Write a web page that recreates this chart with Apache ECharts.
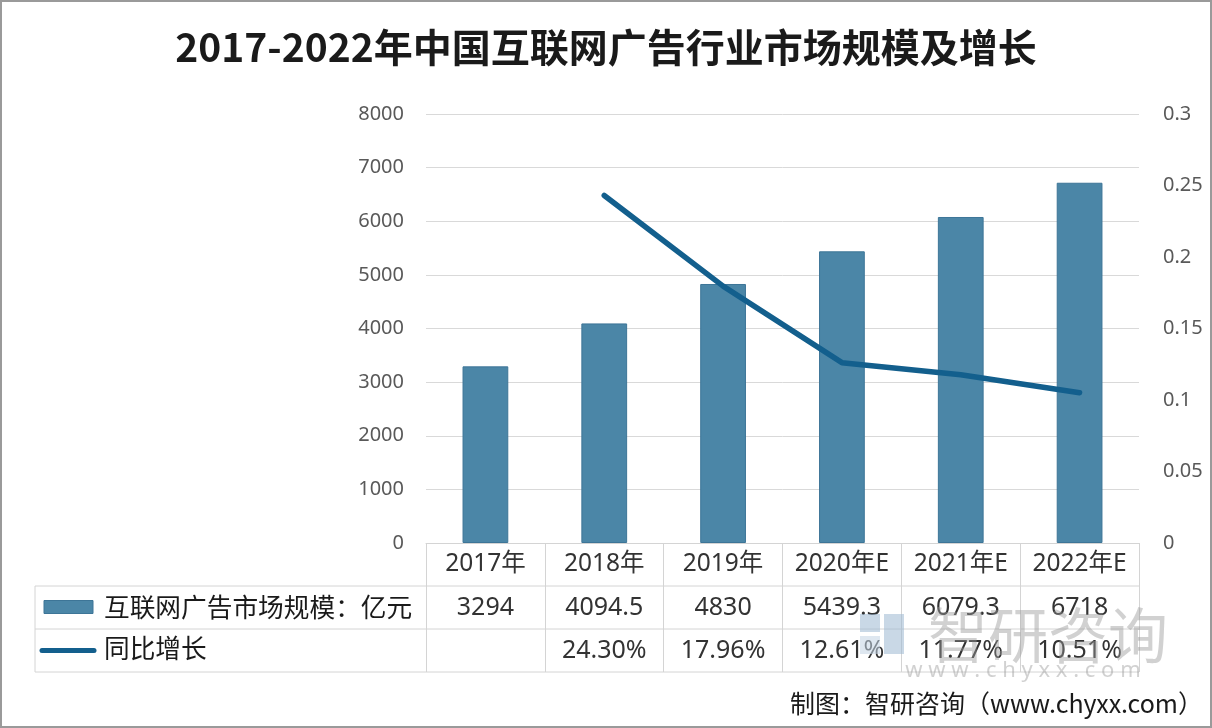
<!DOCTYPE html>
<html>
<head>
<meta charset="utf-8">
<script src="https://cdn.jsdelivr.net/npm/echarts@6/dist/echarts.min.js"></script>
<style>
html,body{margin:0;padding:0;background:#fff;}
#main{width:1212px;height:728px;box-sizing:border-box;border:2px solid #9a9a9a;}
</style>
</head>
<body>
<div id="main"></div>
<script>
const titleText = '2017-2022年中国互联网广告行业市场规模及增长';
const sourceText = '制图：智研咨询（www.chyxx.com）';
const categories = ['2017年', '2018年', '2019年', '2020年E', '2021年E', '2022年E'];
const sizeName = '互联网广告市场规模：亿元';
const growthName = '同比增长';
const marketSize = [3294, 4094.5, 4830, 5439.3, 6079.3, 6718];
const growth = [null, 0.2430, 0.1796, 0.1261, 0.1177, 0.1051];
const leftAxis = { min: 0, max: 8000, interval: 1000 };
const rightAxis = { min: 0, max: 0.3, interval: 0.05 };

const FONT = '"Noto Sans", "Noto Sans CJK SC", sans-serif';
const BAR = '#4b86a7';
const LINE = '#135f8d';
const GRID = '#d9d9d9';
const TABLE = '#d4d4d4';

const chart = echarts.init(document.getElementById('main'), null, { renderer: 'canvas' });

const option = {
  backgroundColor: '#ffffff',
  animation: false,
  textStyle: { fontFamily: FONT },
  title: {
    text: titleText,
    left: 'center',
    top: 21,
    textStyle: { fontFamily: '"Noto Sans CJK SC", sans-serif', fontWeight: 'bold', fontSize: 39, color: '#1a1a1a' }
  },
  grid: { left: 424, right: 71, top: 112, bottom: 183, containLabel: false },
  xAxis: {
    type: 'category',
    data: categories,
    boundaryGap: true,
    axisLine: { show: true, lineStyle: { color: TABLE, width: 1 } },
    axisTick: { show: true, interval: 0, length: 129, lineStyle: { color: TABLE, width: 1 } },
    axisLabel: { interval: 0, hideOverlap: false, fontSize: 24.5, color: '#333', margin: 8, lineHeight: 26, fontFamily: FONT }
  },
  yAxis: [
    {
      type: 'value', min: leftAxis.min, max: leftAxis.max, interval: leftAxis.interval,
      axisLine: { show: false }, axisTick: { show: false },
      axisLabel: { fontSize: 20, color: '#595959', margin: 22, fontFamily: FONT, formatter: v => String(v) },
      splitLine: { show: true, lineStyle: { color: GRID, width: 1 } }
    },
    {
      type: 'value', min: rightAxis.min, max: rightAxis.max, interval: rightAxis.interval,
      axisLine: { show: false }, axisTick: { show: false },
      axisLabel: { fontSize: 20, color: '#595959', margin: 24, fontFamily: FONT,
        formatter: v => String(parseFloat(v.toFixed(4))) },
      splitLine: { show: false }
    }
  ],
  series: [
    {
      name: sizeName, type: 'bar', data: marketSize, yAxisIndex: 0,
      barWidth: '38.5%',
      itemStyle: { color: BAR, borderColor: '#3d7597', borderWidth: 1 }
    },
    {
      name: growthName, type: 'line', data: growth, yAxisIndex: 1,
      showSymbol: false, symbol: 'none', connectNulls: false,
      lineStyle: { color: LINE, width: 5.5, cap: 'round', join: 'round' },
      itemStyle: { color: LINE }
    }
  ]
};
chart.setOption(option);

// Build the data table below the axis from the same arrays, positioned by the axis scale
const gridModel = chart.getModel().getComponent('grid', 0);
const rect = gridModel.coordinateSystem.getRect();
const x0 = rect.x, x1 = rect.x + rect.width, yBase = rect.y + rect.height;
const tableLeft = 33;
const rowH = 43;
const r1 = yBase + rowH;       // bottom of header row
const r2 = r1 + rowH;          // bottom of size row
const r3 = r2 + rowH;          // bottom of growth row
const g = [];
const hline = (y, xa, xb) => g.push({ type: 'line', shape: { x1: xa, y1: y, x2: xb, y2: y }, style: { stroke: TABLE, lineWidth: 1 }, silent: true });
hline(r1, tableLeft, x1);
hline(r2, tableLeft, x1);
hline(r3, tableLeft, x1);
g.push({ type: 'line', shape: { x1: tableLeft, y1: r1, x2: tableLeft, y2: r3 }, style: { stroke: TABLE, lineWidth: 1 }, silent: true });

// legend keys
g.push({ type: 'rect', shape: { x: 42, y: (r1 + r2) / 2 - 7, width: 49, height: 13 }, style: { fill: BAR, stroke: '#3d7597', lineWidth: 1 } });
g.push({ type: 'line', shape: { x1: 40, y1: (r2 + r3) / 2, x2: 92, y2: (r2 + r3) / 2 }, style: { stroke: LINE, lineWidth: 5, lineCap: 'round' } });
g.push({ type: 'text', style: { text: sizeName, x: 102, y: (r1 + r2) / 2, textVerticalAlign: 'middle', verticalAlign: 'middle', font: '25.7px "Noto Sans CJK SC", sans-serif', fill: '#1a1a1a' } });
g.push({ type: 'text', style: { text: growthName, x: 102, y: (r2 + r3) / 2 - 2, textVerticalAlign: 'middle', verticalAlign: 'middle', font: '25.7px "Noto Sans CJK SC", sans-serif', fill: '#1a1a1a' } });

categories.forEach((c, i) => {
  const px = chart.convertToPixel({ xAxisIndex: 0 }, c);
  g.push({ type: 'text', style: { text: String(marketSize[i]), x: px, y: (r1 + r2) / 2, align: 'center', textAlign: 'center', verticalAlign: 'middle', textVerticalAlign: 'middle', font: '25px "Noto Sans", sans-serif', fill: '#333' } });
  if (growth[i] != null) {
    g.push({ type: 'text', style: { text: (growth[i] * 100).toFixed(2) + '%', x: px, y: (r2 + r3) / 2, align: 'center', textAlign: 'center', verticalAlign: 'middle', textVerticalAlign: 'middle', font: '25px "Noto Sans", sans-serif', fill: '#333' } });
  }
});

// watermark
g.push({ type: 'rect', shape: { x: 858, y: 612, width: 20, height: 18 }, style: { fill: '#9db8d2', opacity: 0.55 }, z: 50 });
g.push({ type: 'rect', shape: { x: 882, y: 612, width: 20, height: 40 }, style: { fill: '#9db8d2', opacity: 0.55 }, z: 50 });
g.push({ type: 'rect', shape: { x: 858, y: 634, width: 20, height: 18 }, style: { fill: '#c2d3e3', opacity: 0.55 }, z: 50 });
g.push({ type: 'text', style: { text: '智研咨询', x: 1046, y: 633, align: 'center', textAlign: 'center', verticalAlign: 'middle', textVerticalAlign: 'middle', font: '60px "Noto Sans CJK SC", sans-serif', fill: '#9a9a9a', opacity: 0.45 }, z: 50 });
g.push({ type: 'text', style: { text: 'w w w . c h y x x . c o m', x: 1021, y: 669, align: 'center', textAlign: 'center', verticalAlign: 'middle', textVerticalAlign: 'middle', font: '22px "Noto Sans", sans-serif', fill: '#9a9a9a', opacity: 0.45 }, z: 50 });

// source
g.push({ type: 'text', style: { text: sourceText, x: 1201, y: 701, align: 'right', textAlign: 'right', verticalAlign: 'middle', textVerticalAlign: 'middle', font: '25px "Noto Sans CJK SC", sans-serif', fill: '#1a1a1a' } });

chart.setOption({ graphic: g });
</script>
</body>
</html>
